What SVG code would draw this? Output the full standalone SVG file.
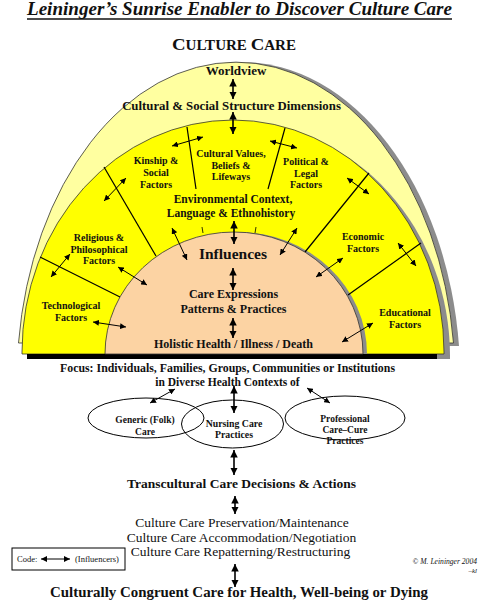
<svg xmlns="http://www.w3.org/2000/svg" width="483" height="600" viewBox="0 0 483 600">
<style>
.b{font-family:"Liberation Serif","Times New Roman",serif;font-weight:bold;fill:#111;text-anchor:middle}
.r{font-family:"Liberation Serif","Times New Roman",serif;fill:#111;text-anchor:middle}
.s10{font-size:10px}
.ln{stroke:#000;stroke-width:1.2;fill:none}
.a{stroke:#000;stroke-width:1;fill:none;marker-start:url(#ah);marker-end:url(#ah)}
.A{stroke:#000;stroke-width:1.6;fill:none;marker-start:url(#ahb);marker-end:url(#ahb)}
</style>
<defs>
<marker id="ah" viewBox="0 0 10 10" refX="10" refY="5" markerWidth="6" markerHeight="6" markerUnits="userSpaceOnUse" orient="auto-start-reverse"><path d="M0,0 L10,5 L0,10 z" fill="#000"/></marker>
<marker id="ahb" viewBox="0 0 10 10" refX="10" refY="5" markerWidth="7.5" markerHeight="7.5" markerUnits="userSpaceOnUse" orient="auto-start-reverse"><path d="M0,0 L10,5 L0,10 z" fill="#000"/></marker>
</defs>
<rect width="483" height="600" fill="#fff"/>

<g id="title">
<text x="239.5" y="15" font-family="Liberation Serif, Times New Roman, serif" font-weight="bold" font-style="italic" font-size="18" fill="#111" text-anchor="middle" textLength="425" lengthAdjust="spacingAndGlyphs">Leininger’s Sunrise Enabler to Discover Culture Care</text>
<line x1="27" y1="19" x2="452" y2="19" stroke="#111" stroke-width="1.3"/>
</g>

<g id="culture-care-heading">
<text class="b" x="234" y="50" textLength="124" lengthAdjust="spacingAndGlyphs"><tspan font-size="17.5">C</tspan><tspan font-size="14">ULTURE </tspan><tspan font-size="17.5">C</tspan><tspan font-size="14">ARE</tspan></text>
</g>

<g id="sunrise">
<path d="M 23.5 346 A 219 318 0 0 1 459 346 Z" fill="#8c8c8c"/>
<path d="M 18.5 343 A 219 318 0 0 1 453.5 343 Z" fill="#ffffa0" stroke="#333" stroke-width="0.8"/>
<path d="M 28 358 L 28 356 A 211 232 0 0 1 450 356 L 450 359 Z" fill="#8c8c8c"/>
<path d="M 22 354 L 22 352 A 211 232 0 0 1 444 352 L 444 354 Z" fill="#ffff00" stroke="#333" stroke-width="0.8"/>
<rect x="27" y="354" width="410" height="5" fill="#000"/>
<path d="M 109 354 A 129 122 0 0 1 367 354 Z" fill="#8c8c8c"/>
<path d="M 105 354 A 129 122 0 0 1 363 354 Z" fill="#fcd3a3" stroke="#333" stroke-width="0.8"/>
</g>

<g id="dividers">
<line class="ln" x1="40" y1="257" x2="120" y2="297"/>
<line class="ln" x1="104" y1="167" x2="156" y2="256"/>
<line class="ln" x1="187" y1="127" x2="196" y2="189"/>
<line class="ln" x1="285" y1="128" x2="268" y2="189"/>
<line class="ln" x1="369" y1="173" x2="305" y2="252"/>
<line class="ln" x1="421" y1="243" x2="348" y2="295"/>
<line x1="202" y1="227" x2="203" y2="233" stroke="#000" stroke-width="0.8"/>
<line x1="256" y1="227" x2="255" y2="233" stroke="#000" stroke-width="0.8"/>
</g>

<g id="connectors">
<line class="A" x1="233" y1="79" x2="233" y2="99"/>
<line class="A" x1="233" y1="112" x2="233" y2="134"/>
<line class="a" x1="172" y1="146" x2="203" y2="137"/>
<line class="a" x1="104" y1="201" x2="126" y2="178"/>
<line class="a" x1="270" y1="141" x2="297" y2="148"/>
<line class="a" x1="347" y1="178" x2="369" y2="194"/>
<line class="a" x1="398" y1="243" x2="416" y2="266"/>
<line class="a" x1="70" y1="254" x2="51" y2="277"/>
<line class="a" x1="172" y1="228" x2="187" y2="260"/>
<line class="A" x1="234" y1="221" x2="234" y2="244"/>
<line class="a" x1="297" y1="228" x2="280" y2="255"/>
<line class="a" x1="118" y1="267" x2="147" y2="285"/>
<line class="a" x1="343" y1="258" x2="316" y2="277"/>
<line class="a" x1="93" y1="322" x2="126" y2="327"/>
<line class="a" x1="373" y1="323" x2="342" y2="342"/>
<line class="A" x1="233" y1="268" x2="233" y2="290"/>
<line class="A" x1="233" y1="318" x2="233" y2="338"/>
<line class="a" x1="175" y1="389" x2="150" y2="403"/>
<line class="A" x1="234" y1="386" x2="234" y2="413"/>
<line class="a" x1="307" y1="388" x2="330" y2="403"/>
<line class="A" x1="234" y1="450" x2="234" y2="475"/>
<line class="A" x1="235" y1="496" x2="235" y2="514"/>
<line class="A" x1="235" y1="564" x2="235" y2="587"/>
</g>

<g id="worldview"><text class="b" x="236" y="75" font-size="13">Worldview</text></g>
<g id="cultural-social"><text class="b" x="231.5" y="110" font-size="12.8">Cultural &amp; Social Structure Dimensions</text></g>
<g id="kinship"><text class="b s10" x="156" y="164">Kinship &amp;</text><text class="b s10" x="156" y="176">Social</text><text class="b s10" x="156" y="188">Factors</text></g>
<g id="cultural-values"><text class="b s10" x="231" y="157">Cultural Values,</text><text class="b s10" x="231" y="168.5">Beliefs &amp;</text><text class="b s10" x="231" y="180">Lifeways</text></g>
<g id="political"><text class="b s10" x="306" y="165">Political &amp;</text><text class="b s10" x="306" y="176.5">Legal</text><text class="b s10" x="306" y="188">Factors</text></g>
<g id="environmental"><text class="b" x="233" y="203" font-size="11.5">Environmental Context,</text><text class="b" x="231" y="216.5" font-size="11.5">Language &amp; Ethnohistory</text></g>
<g id="religious"><text class="b s10" x="99" y="241">Religious &amp;</text><text class="b s10" x="99" y="252.5">Philosophical</text><text class="b s10" x="99" y="264">Factors</text></g>
<g id="technological"><text class="b s10" x="71" y="309">Technological</text><text class="b s10" x="71" y="321">Factors</text></g>
<g id="economic"><text class="b s10" x="363" y="240">Economic</text><text class="b s10" x="363" y="252">Factors</text></g>
<g id="educational"><text class="b s10" x="405" y="316">Educational</text><text class="b s10" x="405" y="328">Factors</text></g>
<g id="influences"><text class="b" x="233" y="259" font-size="15.5">Influences</text></g>
<g id="care-expressions"><text class="b" x="233.5" y="298" font-size="12">Care Expressions</text><text class="b" x="233.5" y="313" font-size="12">Patterns &amp; Practices</text></g>
<g id="holistic"><text class="b" x="233.5" y="348" font-size="12">Holistic Health / Illness / Death</text></g>

<g id="focus">
<text class="b" x="60" y="372" font-size="11.5" style="text-anchor:start" textLength="335" lengthAdjust="spacingAndGlyphs">Focus:  Individuals, Families, Groups, Communities or Institutions</text>
<text class="b" x="227.5" y="386" font-size="11.5">in Diverse Health Contexts of</text>
</g>

<g id="generic">
<ellipse cx="146" cy="418" rx="58" ry="20" fill="none" stroke="#000" stroke-width="1"/>
<text class="b" x="145" y="423" font-size="9.5">Generic (Folk)</text><text class="b" x="145" y="434.5" font-size="9.5">Care</text>
</g>
<g id="nursing">
<ellipse cx="232.5" cy="424" rx="51" ry="24" fill="none" stroke="#000" stroke-width="1"/>
<text class="b" x="234" y="427" font-size="9.8">Nursing Care</text><text class="b" x="234" y="438" font-size="9.8">Practices</text>
</g>
<g id="professional">
<ellipse cx="345" cy="418" rx="60" ry="22" fill="none" stroke="#000" stroke-width="1"/>
<text class="b" x="345" y="422" font-size="9.5">Professional</text><text class="b" x="345" y="433" font-size="9.5">Care–Cure</text><text class="b" x="345" y="444" font-size="9.5">Practices</text>
</g>

<g id="transcultural"><text class="b" x="241.5" y="488" font-size="13.5">Transcultural Care Decisions &amp; Actions</text></g>
<g id="modes">
<text class="r" x="242" y="527" font-size="13.5">Culture Care Preservation/Maintenance</text>
<text class="r" x="241.5" y="541.5" font-size="13.5">Culture Care Accommodation/Negotiation</text>
<text class="r" x="240.5" y="556" font-size="13.5">Culture Care Repatterning/Restructuring</text>
</g>
<g id="outcome"><text class="b" x="239" y="597" font-size="14" textLength="378" lengthAdjust="spacingAndGlyphs">Culturally Congruent Care for Health, Well-being or Dying</text></g>

<g id="code-legend">
<rect x="12" y="548" width="113" height="22" fill="#fff" stroke="#000" stroke-width="1"/>
<text class="r" x="17" y="562" font-size="8.5" style="text-anchor:start">Code:</text>
<line class="a" x1="41" y1="559" x2="70" y2="559"/>
<text class="r" x="75" y="562" font-size="8.5" style="text-anchor:start">(Influencers)</text>
</g>

<g id="credit">
<text class="r" x="477" y="564" font-size="7.6" font-style="italic" style="text-anchor:end">© M. Leininger 2004</text>
<text class="r" x="477" y="573" font-size="7" font-style="italic" style="text-anchor:end">–kl</text>
</g>
</svg>
